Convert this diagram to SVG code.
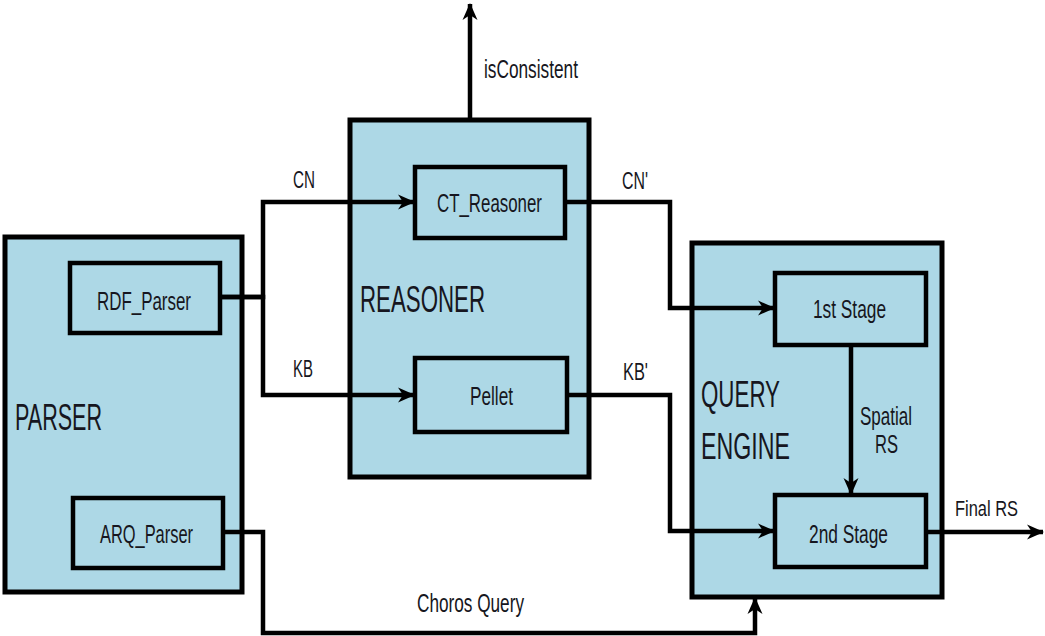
<svg xmlns="http://www.w3.org/2000/svg" width="1045" height="636" viewBox="0 0 1045 636">
<style>
  .outer { fill: #add8e6; stroke: #000; stroke-width: 5; }
  .inner { fill: #add8e6; stroke: #000; stroke-width: 4.5; }
  .conn { fill: none; stroke: #000; stroke-width: 4.5; stroke-linejoin: miter; }
  .arr { marker-end: url(#ah); }
  text { font-family: "Liberation Sans", Arial, sans-serif; fill: #161620; }
  .lbl { font-size: 25px; }
  .big { font-size: 37px; }
  .edge { font-size: 23px; }
</style>
<defs>
  <marker id="ah" markerUnits="userSpaceOnUse" markerWidth="17" markerHeight="18" viewBox="0 0 17 18" refX="16" refY="9" orient="auto">
    <path d="M0,1.5 L17,9 L0,16.5 L5,9 z" fill="#000"/>
  </marker>
</defs>
<rect width="1045" height="636" fill="#fff"/>

<g id="parser">
  <rect class="outer" x="5" y="237" width="237" height="355"/>
  <text class="big" x="15" y="430" textLength="87" lengthAdjust="spacingAndGlyphs">PARSER</text>
</g>
<g id="rdf_parser">
  <rect class="inner" x="70" y="263" width="150" height="70"/>
  <text class="lbl" x="97" y="310" textLength="94" lengthAdjust="spacingAndGlyphs">RDF_Parser</text>
</g>
<g id="arq_parser">
  <rect class="inner" x="73" y="498" width="150" height="70"/>
  <text class="lbl" x="100" y="543" textLength="93" lengthAdjust="spacingAndGlyphs">ARQ_Parser</text>
</g>

<g id="reasoner">
  <rect class="outer" x="350" y="120" width="239" height="357"/>
  <text class="big" x="360" y="312" textLength="125" lengthAdjust="spacingAndGlyphs">REASONER</text>
</g>
<g id="ct_reasoner">
  <rect class="inner" x="415" y="167" width="150" height="71"/>
  <text class="lbl" x="437" y="212" textLength="105" lengthAdjust="spacingAndGlyphs">CT_Reasoner</text>
</g>
<g id="pellet">
  <rect class="inner" x="415" y="358" width="152" height="74"/>
  <text class="lbl" x="470" y="405" textLength="43" lengthAdjust="spacingAndGlyphs">Pellet</text>
</g>

<g id="query_engine">
  <rect class="outer" x="692" y="243" width="250" height="354"/>
  <text class="big" x="701" y="407" textLength="79" lengthAdjust="spacingAndGlyphs">QUERY</text>
  <text class="big" x="701" y="459" textLength="89" lengthAdjust="spacingAndGlyphs">ENGINE</text>
</g>
<g id="stage1">
  <rect class="inner" x="775" y="273" width="151" height="72"/>
  <text class="lbl" x="813" y="318" textLength="73" lengthAdjust="spacingAndGlyphs">1st Stage</text>
</g>
<g id="stage2">
  <rect class="inner" x="775" y="495" width="151" height="72"/>
  <text class="lbl" x="809" y="543" textLength="79" lengthAdjust="spacingAndGlyphs">2nd Stage</text>
</g>

<g id="connectors">
  <path class="conn arr" d="M222,297 H263 V202 H414"/>
  <path class="conn arr" d="M222,297 H263 V395 H414"/>
  <path class="conn arr" d="M565,202 H670 V308 H774"/>
  <path class="conn arr" d="M567,395 H670 V531 H774"/>
  <path class="conn arr" d="M851,345 V494"/>
  <path class="conn arr" d="M926,532 H1043"/>
  <path class="conn arr" d="M470,120 V4"/>
  <path class="conn arr" d="M223,532 H263 V633 H755 V598"/>
  <text class="edge" x="293" y="188" textLength="22" lengthAdjust="spacingAndGlyphs">CN</text>
  <text class="edge" x="293" y="377" textLength="20" lengthAdjust="spacingAndGlyphs">KB</text>
  <text class="edge" x="622" y="189" textLength="26" lengthAdjust="spacingAndGlyphs">CN'</text>
  <text class="edge" x="623" y="380" textLength="25" lengthAdjust="spacingAndGlyphs">KB'</text>
  <text class="lbl" x="484" y="78" textLength="94" lengthAdjust="spacingAndGlyphs">isConsistent</text>
  <text class="lbl" x="860" y="425" textLength="52" lengthAdjust="spacingAndGlyphs">Spatial</text>
  <text class="lbl" x="875" y="453" textLength="23" lengthAdjust="spacingAndGlyphs">RS</text>
  <text x="955" y="516" font-size="22" textLength="63" lengthAdjust="spacingAndGlyphs">Final RS</text>
  <text class="lbl" x="417" y="612" textLength="107" lengthAdjust="spacingAndGlyphs">Choros Query</text>
</g>
</svg>
